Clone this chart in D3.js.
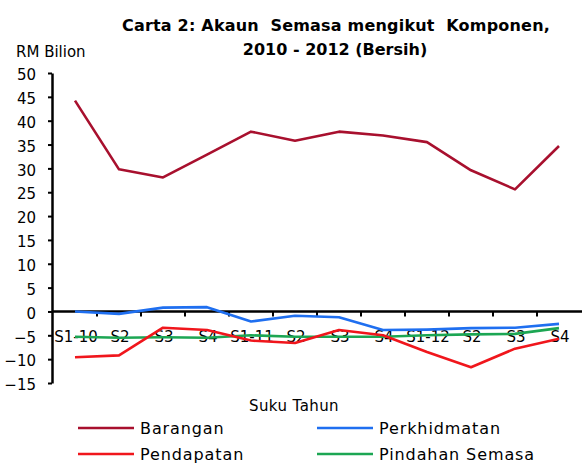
<!DOCTYPE html>
<html>
<head>
<meta charset="utf-8">
<script src="https://cdn.jsdelivr.net/npm/d3@7"></script>
<style>
  html, body { margin: 0; padding: 0; background: #fff; }
  svg text { font-family: "DejaVu Sans", sans-serif; fill: #000; }
</style>
</head>
<body>
<svg id="chart" width="582" height="465"></svg>
<script>
// Quarters 2010 - 2012
var quarters = ["S1-10", "S2", "S3", "S4", "S1-11", "S2", "S3", "S4", "S1-12", "S2", "S3", "S4"];

// RM billion, net
var barangan     = [44.2, 29.8, 28.1, 32.9, 37.7, 35.8, 37.7, 36.9, 35.5, 29.6, 25.6, 34.7];
var perkhidmatan = [0.0, -0.5, 0.8, 0.9, -2.1, -0.9, -1.2, -3.9, -3.8, -3.5, -3.4, -2.6];
var pendapatan   = [-9.6, -9.2, -3.4, -3.9, -6.1, -6.6, -3.9, -5.0, -8.5, -11.7, -7.8, -5.7];
var pindahan     = [-5.3, -5.5, -5.4, -5.5, -5.0, -5.3, -5.3, -5.3, -5.0, -4.8, -4.7, -3.5];

var yTicks = d3.range(-15, 51, 5);

var series = [
    { name: "Barangan",        values: barangan,     color: "#a8102e" },
    { name: "Perkhidmatan",    values: perkhidmatan, color: "#1f6ff0" },
    { name: "Pendapatan",      values: pendapatan,   color: "#f0161c" },
    { name: "Pindahan Semasa", values: pindahan,     color: "#1ca653" }
];

var svg = d3.select("#chart");

// index-based band scale so repeated labels (S2, S3...) stay distinct
var x = d3.scaleBand()
    .domain(d3.range(quarters.length))
    .range([53, 581])
    .paddingInner(0).paddingOuter(0);
var cx = i => x(i) + x.bandwidth() / 2;

var y = d3.scaleLinear().domain([-15, 50]).range([383, 73]);

// Title
svg.append("text")
    .attr("x", 336).attr("y", 31)
    .attr("text-anchor", "middle")
    .style("font-weight", "bold").style("font-size", "16px")
    .style("letter-spacing", "0.2px")
    .style("white-space", "pre")
    .text("Carta 2: Akaun  Semasa mengikut  Komponen,");
svg.append("text")
    .attr("x", 335).attr("y", 55)
    .attr("text-anchor", "middle")
    .style("font-weight", "bold").style("font-size", "16px")
    .text("2010 - 2012 (Bersih)");

svg.append("text")
    .attr("x", 16).attr("y", 57)
    .style("font-size", "15px")
    .text("RM Bilion");

// Y axis
var yAxisG = svg.append("g")
    .attr("transform", "translate(52,0)")
    .call(d3.axisLeft(y).tickValues(yTicks).tickSize(4).tickPadding(12).tickSizeOuter(0));
yAxisG.select(".domain").attr("stroke", "#000").attr("stroke-width", 2.5);
yAxisG.selectAll(".tick line").attr("stroke", "#000").attr("stroke-width", 2);
yAxisG.selectAll(".tick text")
    .style("font-size", "15px")
    .style("font-family", "DejaVu Sans, sans-serif")
    .attr("dy", "0.45em");

// X axis along zero
var y0 = y(0);
svg.append("line")
    .attr("x1", 52).attr("x2", 582)
    .attr("y1", y0).attr("y2", y0)
    .attr("stroke", "#000").attr("stroke-width", 2.5);

svg.append("g").selectAll("line")
    .data(d3.range(1, quarters.length))
    .enter().append("line")
    .attr("x1", d => x(d)).attr("x2", d => x(d))
    .attr("y1", y0).attr("y2", y0 + 5)
    .attr("stroke", "#000").attr("stroke-width", 2);

// Lines
var line = d3.line()
    .x((d, i) => cx(i))
    .y(d => y(d));

// category labels sit under the lines in the original
svg.append("g").selectAll("text")
    .data(quarters)
    .enter().append("text")
    .attr("x", (d, i) => cx(i) + 1)
    .attr("y", 342)
    .attr("text-anchor", "middle")
    .style("font-size", "15px")
    .text(d => d);

var drawOrder = [series[3], series[2], series[1], series[0]];
svg.append("g").selectAll("path")
    .data(drawOrder)
    .enter().append("path")
    .attr("d", d => line(d.values))
    .attr("fill", "none")
    .attr("stroke", d => d.color)
    .attr("stroke-width", 2.6)
    .attr("stroke-linejoin", "round");

// X title
svg.append("text")
    .attr("x", 294).attr("y", 411)
    .attr("text-anchor", "middle")
    .style("font-size", "15px")
    .style("letter-spacing", "0.4px")
    .text("Suku Tahun");

// Legend
var legendPos = [[78, 428], [317, 428], [78, 454], [317, 454]];
var legendOrder = [series[0], series[1], series[2], series[3]];
var lg = svg.append("g").selectAll("g")
    .data(legendOrder)
    .enter().append("g")
    .attr("transform", (d, i) => "translate(" + legendPos[i][0] + "," + legendPos[i][1] + ")");
lg.append("line")
    .attr("x1", 0).attr("x2", 56)
    .attr("stroke", d => d.color).attr("stroke-width", 2.6);
lg.append("text")
    .attr("x", 62).attr("y", 6)
    .style("font-size", "16px")
    .style("letter-spacing", "0.9px")
    .text(d => d.name);
</script>
</body>
</html>
